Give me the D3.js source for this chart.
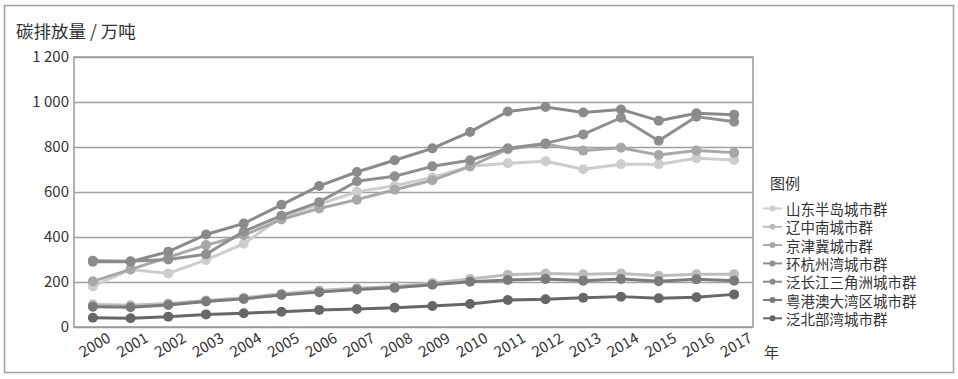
<!DOCTYPE html>
<html><head><meta charset="utf-8">
<script src="https://cdn.jsdelivr.net/npm/d3@7/dist/d3.min.js"></script>
<style>
html,body{margin:0;padding:0;background:#fff;}
text{font-family:"Noto Sans CJK SC","Noto Sans",sans-serif;fill:#333;}
</style></head>
<body><svg id="c" width="958" height="379"></svg>
<script>
const years = ["2000","2001","2002","2003","2004","2005","2006","2007","2008","2009","2010","2011","2012","2013","2014","2015","2016","2017"];
const seriesNames = ["山东半岛城市群","辽中南城市群","京津冀城市群","环杭州湾城市群","泛长江三角洲城市群","粤港澳大湾区城市群","泛北部湾城市群"];
const shandong = [180,256,238,298,370,488,545,601,628,665,714,728,737,701,723,723,750,742];
const liaozhongnan = [100,97,104,118,130,148,162,172,180,196,213,232,238,234,238,228,234,234];
const jingjinji = [203,256,310,364,408,478,527,566,610,652,714,790,812,784,797,764,784,775];
const huanhangzhouwan = [295,292,300,323,425,495,555,648,670,714,741,794,816,856,930,828,935,912];
const fanchangjiang = [290,290,335,411,460,543,627,689,741,794,867,958,978,953,967,917,950,943];
const yuegangao = [90,88,98,113,125,142,155,167,174,188,201,209,213,206,213,203,212,206];
const fanbeibuwan = [41,39,46,56,61,68,76,80,86,93,102,120,123,130,135,128,132,145];
const yTicks = [0,200,400,600,800,1000,1200];
const yTickLabels = ["0","200","400","600","800","1 000","1 200"];
const colors = ["#cdcdcd","#bcbcbc","#a8a8a8","#8f8f8f","#8a8a8a","#7b7b7b","#676767"];
const allSeries = [shandong,liaozhongnan,jingjinji,huanhangzhouwan,fanchangjiang,yuegangao,fanbeibuwan];

const svg = d3.select("#c");
// outer frame
svg.append("rect").attr("x",4.5).attr("y",5.5).attr("width",949).attr("height",367)
  .attr("fill","none").attr("stroke","#a0a0a0").attr("stroke-width",1.5);

const L=74, R=753, T=57, B=327;
const x = d3.scalePoint().domain(years).range([L,R]).padding(0.5);
const y = d3.scaleLinear().domain([0,1200]).range([B,T]);

// y axis with gridlines
const ya = svg.append("g").attr("transform",`translate(${L},0)`)
  .call(d3.axisLeft(y).tickValues(yTicks).tickSize(-(R-L)).tickPadding(5)
    .tickFormat((d,i)=>yTickLabels[i]));
ya.select(".domain").remove();
ya.selectAll(".tick line").attr("stroke","#a0a0a0").attr("stroke-width",1.5);
ya.selectAll(".tick text").style("font-size","15px").attr("fill","#333");

// plot frame
svg.append("rect").attr("x",L).attr("y",T).attr("width",R-L).attr("height",B-T)
  .attr("fill","none").attr("stroke","#9a9a9a").attr("stroke-width",1.5);

// x axis
const xa = svg.append("g").attr("transform",`translate(0,${B})`)
  .call(d3.axisBottom(x).tickSize(0).tickPadding(0));
xa.select(".domain").remove();
xa.selectAll(".tick text")
  .attr("y",0).attr("dy",null)
  .attr("text-anchor","middle").attr("dominant-baseline","middle")
  .attr("transform","translate(2,19) rotate(-30)")
  .style("font-size","15px").attr("fill","#333");

// titles
svg.append("text").attr("x",16).attr("y",38).text("碳排放量 / 万吨").style("font-size","17.5px");
svg.append("text").attr("x",764).attr("y",358).text("年").style("font-size","15px");

// lines
const line = d3.line().x((d,i)=>x(years[i])).y(d=>y(d));
allSeries.forEach((s,k)=>{
  const g = svg.append("g");
  g.append("path").datum(s).attr("d",line).attr("fill","none")
    .attr("stroke",colors[k]).attr("stroke-width",3).attr("stroke-linejoin","round");
  g.selectAll("circle").data(s).join("circle")
    .attr("cx",(d,i)=>x(years[i])).attr("cy",d=>y(d)).attr("r",5)
    .attr("fill",colors[k]);
});

// legend
const lg = svg.append("g");
lg.append("text").attr("x",770).attr("y",189).text("图例").style("font-size","15px");
seriesNames.forEach((n,k)=>{
  const cy = 208.5 + k*18.3;
  lg.append("line").attr("x1",763).attr("x2",782).attr("y1",cy).attr("y2",cy)
    .attr("stroke",colors[k]).attr("stroke-width",2);
  lg.append("circle").attr("cx",772.5).attr("cy",cy).attr("r",3).attr("fill",colors[k]);
  lg.append("text").attr("x",786).attr("y",cy).attr("dominant-baseline","central")
    .text(n).style("font-size","14.5px");
});
</script></body></html>
